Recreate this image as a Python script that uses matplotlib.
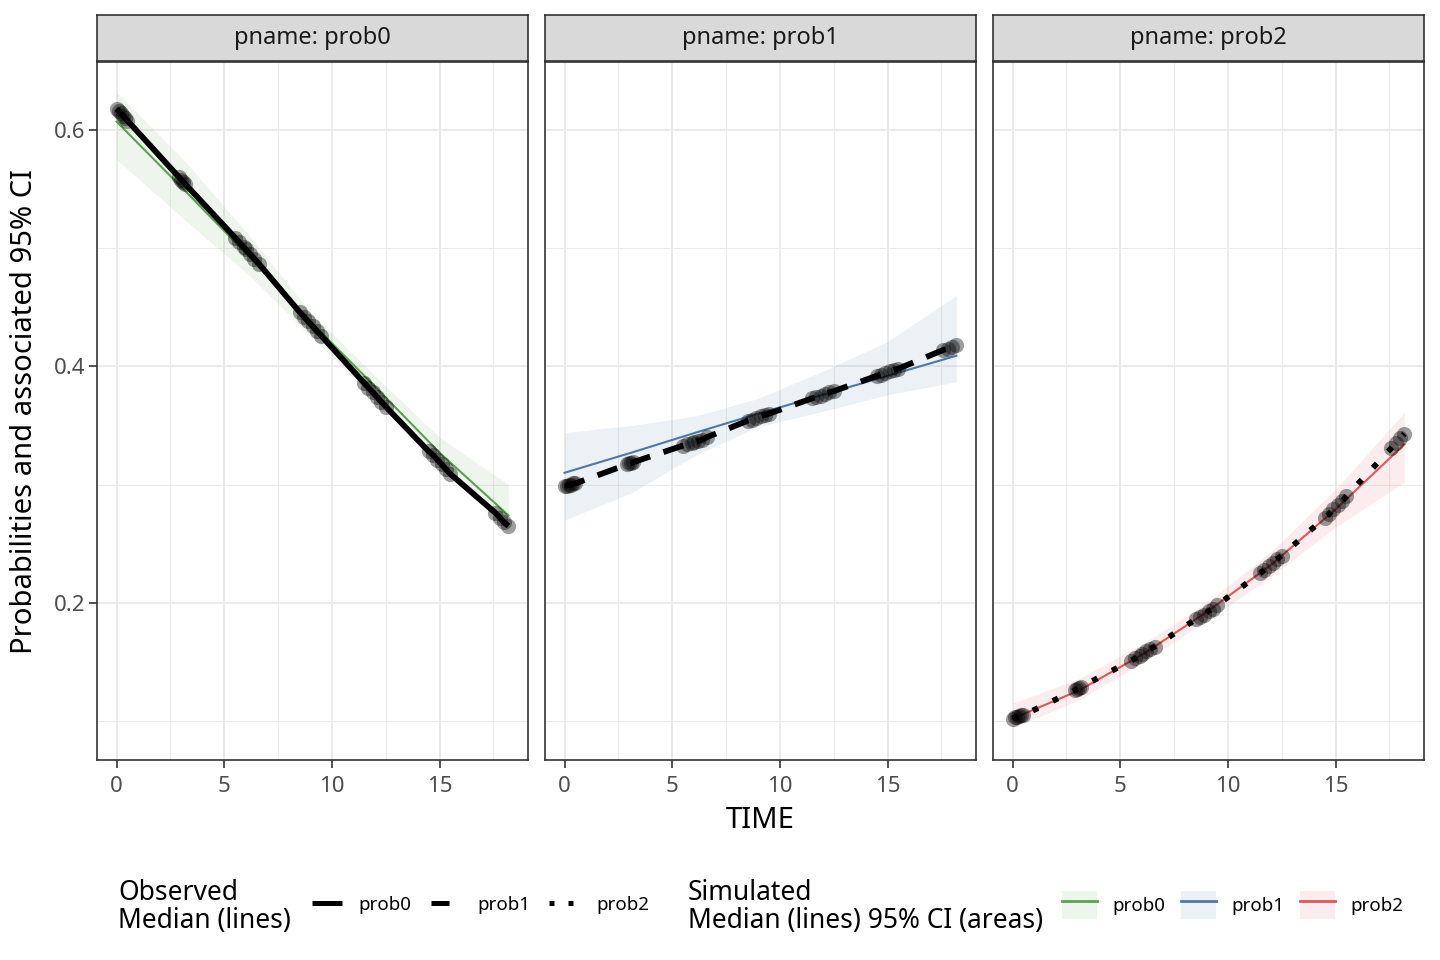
import matplotlib
matplotlib.use("Agg")
import matplotlib.pyplot as plt
from matplotlib.lines import Line2D
from matplotlib.patches import Patch

plt.rcParams['font.family'] = ['Noto Sans', 'DejaVu Sans']

# ---- data ----
pnames = ['prob0', 'prob1', 'prob2']

obs_time = [0.0, 0.1, 0.2, 0.3, 0.4, 0.5,
            2.9, 3.0, 3.1, 3.2,
            5.5, 5.7, 5.9, 6.0, 6.2, 6.4, 6.6,
            8.5, 8.7, 8.9, 9.1, 9.3, 9.5,
            11.5, 11.7, 11.9, 12.1, 12.3, 12.5,
            14.5, 14.7, 14.9, 15.1, 15.3, 15.5,
            17.6, 17.8, 18.0, 18.2]

obs_prob0 = [0.618, 0.616, 0.614, 0.612, 0.610, 0.608,
             0.560, 0.558, 0.556, 0.554,
             0.509, 0.505, 0.501, 0.499, 0.495, 0.491, 0.487,
             0.446, 0.442, 0.438, 0.434, 0.430, 0.426,
             0.386, 0.382, 0.378, 0.374, 0.370, 0.366,
             0.328, 0.325, 0.321, 0.317, 0.313, 0.309,
             0.276, 0.272, 0.268, 0.265]

obs_prob1 = [0.299, 0.299, 0.300, 0.300, 0.301, 0.301,
             0.317, 0.318, 0.318, 0.319,
             0.333, 0.334, 0.335, 0.336, 0.337, 0.338, 0.340,
             0.354, 0.355, 0.356, 0.358, 0.359, 0.360,
             0.373, 0.374, 0.375, 0.377, 0.378, 0.379,
             0.392, 0.393, 0.394, 0.396, 0.397, 0.398,
             0.414, 0.415, 0.416, 0.418]

obs_prob2 = [0.102, 0.103, 0.103, 0.104, 0.105, 0.105,
             0.126, 0.127, 0.128, 0.129,
             0.151, 0.153, 0.155, 0.157, 0.159, 0.161, 0.163,
             0.186, 0.188, 0.190, 0.193, 0.195, 0.198,
             0.225, 0.228, 0.231, 0.234, 0.237, 0.240,
             0.272, 0.275, 0.279, 0.283, 0.286, 0.290,
             0.331, 0.335, 0.339, 0.343]

sim_time = [0.0, 3.1, 6.1, 9.0, 12.0, 15.0, 18.2]

sim_med0 = [0.607, 0.550, 0.494, 0.438, 0.383, 0.327, 0.274]
sim_lo0 = [0.575, 0.525, 0.478, 0.426, 0.372, 0.316, 0.262]
sim_hi0 = [0.632, 0.575, 0.512, 0.446, 0.392, 0.340, 0.300]

sim_med1 = [0.310, 0.327, 0.344, 0.360, 0.376, 0.392, 0.409]
sim_lo1 = [0.270, 0.293, 0.325, 0.349, 0.362, 0.376, 0.387]
sim_hi1 = [0.344, 0.350, 0.358, 0.373, 0.396, 0.421, 0.460]

sim_med2 = [0.102, 0.126, 0.157, 0.192, 0.232, 0.279, 0.334]
sim_lo2 = [0.094, 0.118, 0.150, 0.185, 0.222, 0.264, 0.302]
sim_hi2 = [0.115, 0.136, 0.166, 0.200, 0.243, 0.296, 0.361]

obs_vals = [obs_prob0, obs_prob1, obs_prob2]
sim_meds = [sim_med0, sim_med1, sim_med2]
sim_los = [sim_lo0, sim_lo1, sim_lo2]
sim_his = [sim_hi0, sim_hi1, sim_hi2]

colors = ['#59A14F', '#4E79A7', '#E15759']
obs_styles = ['-', (0, (3.6, 2.4)), (0, (1, 2.8))]

# ---- layout (pixels) ----
W, H = 1440, 960
fig = plt.figure(figsize=(W / 100, H / 100), dpi=100)

def px_axes(x0, y0, x1, y1):
    return fig.add_axes([x0 / W, 1 - y1 / H, (x1 - x0) / W, (y1 - y0) / H])

panel_x = [(97, 528), (545, 976), (993, 1424)]
ptop, pbot = 62, 760
stop = 15

border = '#333333'
for i, (x0, x1) in enumerate(panel_x):
    ax = px_axes(x0, ptop, x1, pbot)
    ax.fill_between(sim_time, sim_los[i], sim_his[i], color=colors[i], alpha=0.1, lw=0, zorder=1)
    ax.plot(sim_time, sim_meds[i], color=colors[i], lw=1.5, zorder=2)
    ax.plot(obs_time, obs_vals[i], color='black', lw=4.2, linestyle=obs_styles[i],
            solid_capstyle='butt', dash_capstyle='butt', zorder=3)
    ax.scatter(obs_time, obs_vals[i], s=120, color='black', alpha=0.38, linewidths=0, zorder=4)

    ax.set_xlim(-0.91, 19.11)
    ax.set_ylim(0.067, 0.6575)
    ax.set_xticks([0, 5, 10, 15])
    ax.set_xticks([2.5, 7.5, 12.5, 17.5], minor=True)
    ax.set_yticks([0.2, 0.4, 0.6])
    ax.set_yticks([0.1, 0.3, 0.5], minor=True)
    ax.grid(True, which='major', color='#EBEBEB', lw=1.4)
    ax.grid(True, which='minor', color='#EBEBEB', lw=0.7)
    ax.set_axisbelow(True)
    ax.tick_params(which='major', length=5.5, width=1.2, color=border, labelsize=16,
                   labelcolor='#4D4D4D', pad=3)
    ax.tick_params(axis='x', which='major', pad=6)
    ax.tick_params(which='minor', length=0)
    if i > 0:
        ax.tick_params(axis='y', which='both', length=0, labelleft=False)
    else:
        ax.set_yticklabels(['0.2', '0.4', '0.6'])
    for s in ax.spines.values():
        s.set_color(border)
        s.set_linewidth(1.2)

    sax = px_axes(x0, stop, x1, ptop - 1)
    sax.set_facecolor('#D9D9D9')
    sax.set_xticks([])
    sax.set_yticks([])
    for s in sax.spines.values():
        s.set_color(border)
        s.set_linewidth(1.2)
    sax.text(0.5, 0.5, 'pname: ' + pnames[i], ha='center', va='center',
             fontsize=17, color='#1A1A1A', transform=sax.transAxes)

fig.text(25 / W, 1 - 411 / H, 'Probabilities and associated 95% CI', rotation=90,
         ha='center', va='center', fontsize=21)
fig.text(760 / W, 1 - 820 / H, 'TIME', ha='center', va='center', fontsize=21)

# ---- legends ----
ly = 1 - 905 / H
fig.text(118 / W, 1 - 907 / H, 'Observed\nMedian (lines)', ha='left', va='center',
         fontsize=19, linespacing=1.0)
fig.text(688 / W, 1 - 907 / H, 'Simulated\nMedian (lines) 95% CI (areas)', ha='left', va='center',
         fontsize=19, linespacing=1.0)

obs_handles = [Line2D([], [], color='black', lw=3.6, linestyle=obs_styles[k],
                      solid_capstyle='butt', dash_capstyle='butt') for k in range(3)]
leg1 = fig.legend(obs_handles, pnames, loc='center left', bbox_to_anchor=(312 / W, ly),
                  ncol=3, frameon=False, fontsize=13.5, handlelength=1.6,
                  handletextpad=0.9, columnspacing=1.0, borderpad=0, borderaxespad=0)

sim_handles = [(Patch(facecolor=colors[k], alpha=0.1, lw=0),
                Line2D([], [], color=colors[k], lw=2)) for k in range(3)]
leg2 = fig.legend(sim_handles, pnames, loc='center left', bbox_to_anchor=(1062 / W, ly),
                  ncol=3, frameon=False, fontsize=13.5, handlelength=1.85, handleheight=1.85,
                  handletextpad=0.85, columnspacing=0.82, borderpad=0, borderaxespad=0)

fig.savefig('out.png', dpi=100)
